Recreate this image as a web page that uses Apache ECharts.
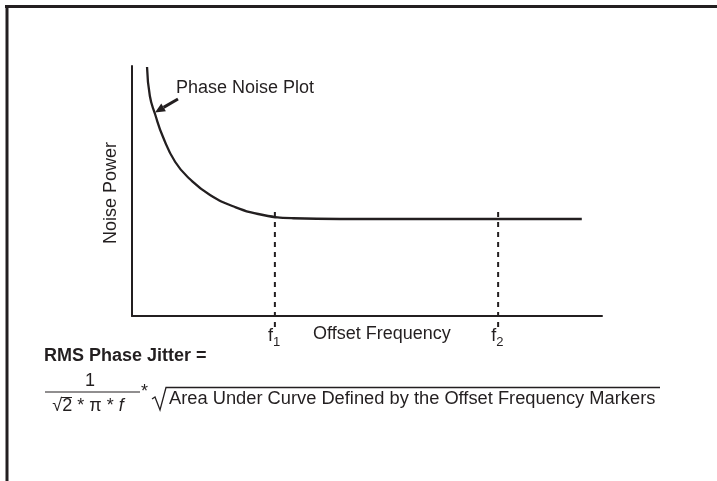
<!DOCTYPE html>
<html>
<head>
<meta charset="UTF-8">
<title>Phase Noise Plot</title>
<script src="https://cdn.jsdelivr.net/npm/echarts@6/dist/echarts.min.js"></script>
<style>
  html, body { margin: 0; padding: 0; background: #fff; }
  #main { width: 717px; height: 481px; }
</style>
</head>
<body>
<div id="main"></div>
<script>
// offset frequency (0..100 along x), noise power (0..100 up y)
var curveX = [3.2, 3.8, 4.9, 6.6, 9.2, 12.3, 16.6, 21.9, 27.9, 34.3, 44.3, 95.7];
var curveY = [99.6, 88.0, 80.8, 71.6, 61.6, 54.8, 48.4, 43.6, 40.4, 39.1, 38.8, 38.8];
// offset frequency markers f1, f2
var markerX = [30.4, 77.9];
var markerSub = ['1', '2'];
var markerTop = 41.6;
var markerBottom = -4.8;

var ink = '#231f20';
var font = '"Liberation Sans", Arial, Helvetica, sans-serif';

var curveData = curveX.map(function (x, i) { return [x, curveY[i]]; });

var series = [{
    type: 'line',
    data: curveData,
    smooth: 0.5,
    showSymbol: false,
    silent: true,
    lineStyle: { color: ink, width: 2.3 }
}];
markerX.forEach(function (x) {
    series.push({
        type: 'line',
        data: [[x, markerTop], [x, markerBottom]],
        clip: false,
        showSymbol: false,
        silent: true,
        lineStyle: { color: ink, width: 2, type: [5, 5] }
    });
});

var axisCommon = {
    type: 'value',
    min: 0,
    max: 100,
    axisLine: { show: true, onZero: false, lineStyle: { color: ink, width: 2 } },
    axisTick: { show: false },
    axisLabel: { show: false },
    splitLine: { show: false }
};

function txt(x, y, s, opt) {
    opt = opt || {};
    return {
        type: 'text', x: x, y: y, rotation: opt.rotation || 0, silent: true,
        style: {
            text: s, fill: ink, fontFamily: font,
            fontSize: opt.size || 18, fontWeight: opt.weight || 'normal',
            fontStyle: opt.style || 'normal',
            align: opt.align || 'left', verticalAlign: 'middle',
            rich: opt.rich
        }
    };
}
function seg(pts, w) {
    return { type: 'polyline', silent: true, shape: { points: pts },
        style: { stroke: ink, lineWidth: w || 2, fill: null } };
}

var chart = echarts.init(document.getElementById('main'), null, { renderer: 'canvas' });

chart.setOption({
    animation: false,
    backgroundColor: '#fff',
    grid: { left: 132, top: 66, width: 470, height: 250 },
    xAxis: axisCommon,
    yAxis: axisCommon,
    series: series
});

// annotations
var g = [
    // frame
    seg([[5, 6.5], [717, 6.5]], 3),
    seg([[7, 5], [7, 481]], 3),
    // phase noise plot label + arrow
    txt(176, 88, 'Phase Noise Plot'),
    seg([[178, 99], [163.6, 107.4]], 3),
    { type: 'polygon', silent: true,
      shape: { points: [[155, 112.5], [161.3, 103.5], [165.9, 111.3]] },
      style: { fill: ink } },
    // axis names
    txt(111, 193, 'Noise Power', { align: 'center', rotation: Math.PI / 2 }),
    txt(313, 334, 'Offset Frequency'),
    // formula
    txt(44, 356, 'RMS Phase Jitter =', { weight: 'bold' }),
    txt(90, 381, '1', { align: 'center' }),
    seg([[45, 392], [140, 392]], 1.2),
    txt(88, 406, '{n|√2 * π * }{i|f}', { align: 'center',
        rich: { n: { fontSize: 18, fontFamily: font, fill: ink },
                i: { fontSize: 18, fontFamily: font, fill: ink, fontStyle: 'italic' } } }),
    seg([[61, 397.5], [72, 397.5]], 1),
    txt(141, 392, '*', { align: 'left' }),
    seg([[152, 399], [155, 397], [160, 410], [166, 387.5], [660, 387.5]], 1.3),
    txt(169, 399, 'Area Under Curve Defined by the Offset Frequency Markers', { size: 18.3 })
];

markerX.forEach(function (x, i) {
    var p = chart.convertToPixel({ gridIndex: 0 }, [x, markerBottom]);
    g.push(txt(p[0] - 2, p[1] + 8, 'f', { align: 'right' }));
    g.push(txt(p[0] - 2, p[1] + 14, markerSub[i], { size: 13 }));
});

chart.setOption({ graphic: g });
</script>
</body>
</html>
